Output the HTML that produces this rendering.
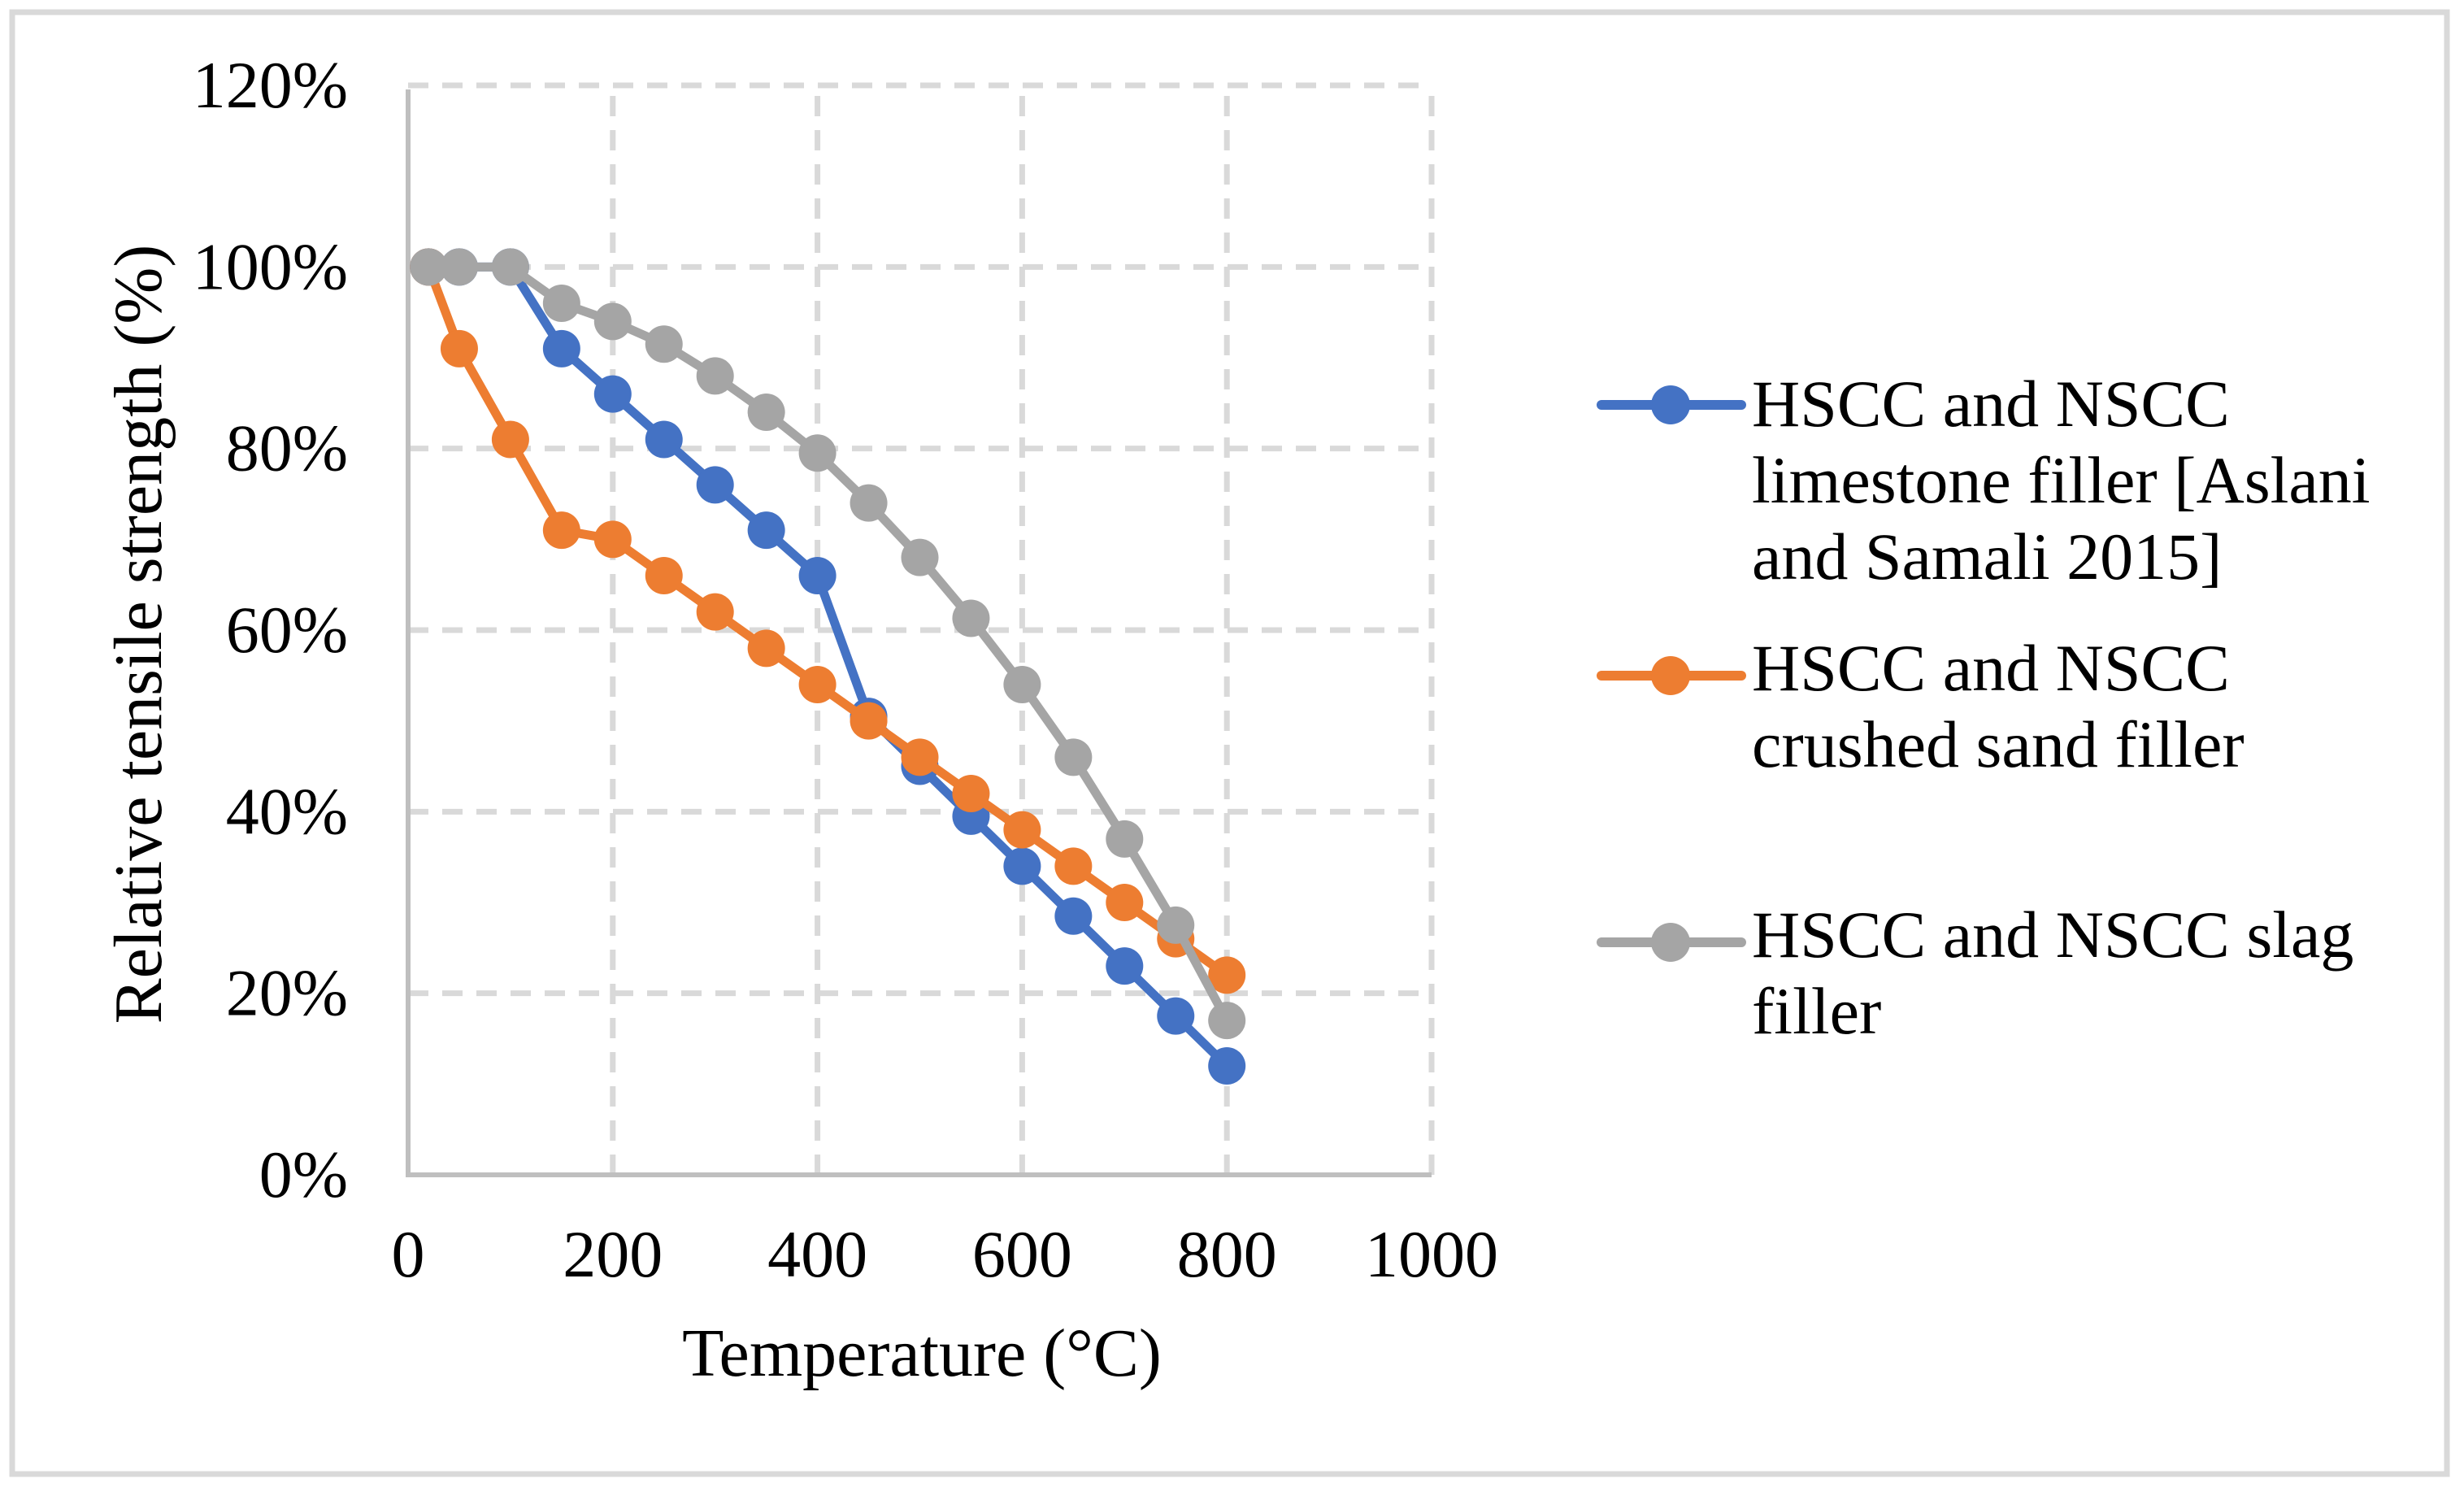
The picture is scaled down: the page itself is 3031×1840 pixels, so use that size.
<!DOCTYPE html>
<html><head><meta charset="utf-8"><style>
html,body{margin:0;padding:0;background:#fff;}
svg{display:block;font-family:"Liberation Serif",serif;}
</style></head><body>
<svg id="chart" width="3031" height="1840" viewBox="0 0 3031 1840" xmlns="http://www.w3.org/2000/svg">
<rect x="15" y="15" width="2995" height="1798" fill="#fff" stroke="#d9d9d9" stroke-width="7"/>
<g id="grid"></g>
<g id="axes"></g>
<g id="series"></g>
<g id="legend"></g>
<text x="1134" y="1692" font-size="84" text-anchor="middle">Temperature (°C)</text>
<text transform="translate(198,780) rotate(-90)" font-size="84" text-anchor="middle">Relative tensile strength (%)</text>
</svg>
<script>
const temps = [20,50,100,150,200,250,300,350,400,450,500,550,600,650,700,750,800];
const limestone = [100,100,100,91,86,81,76,71,66,50.5,45,39.5,34,28.5,23,17.5,12];
const crushedSand = [100,91,81,71,70,66,62,58,54,50,46,42,38,34,30,26,22];
const slag = [100,100,100,96,94,91.5,88,84,79.5,74,68,61.3,54,46,37,27.5,17];
const xTicks = [0,200,400,600,800,1000];
const yTicks = [0,20,40,60,80,100,120];

const NS="http://www.w3.org/2000/svg";
const X0=502,X1=1761,Y0=1445,Y1=105;
function xs(v){return X0+(v-0)/(1000-0)*(X1-X0);}
function ys(v){return Y0-(v-0)/(120-0)*(Y0-Y1);}
function mk(tag,attrs,parent){const e=document.createElementNS(NS,tag);for(const k in attrs)e.setAttribute(k,attrs[k]);parent.appendChild(e);return e;}

const grid=document.getElementById('grid'),axes=document.getElementById('axes'),ser=document.getElementById('series'),leg=document.getElementById('legend');
yTicks.forEach(t=>{
  if(t>0){const l=mk('line',{x1:X0,x2:X1,y1:ys(t),y2:ys(t),stroke:'#d9d9d9','stroke-width':7,'stroke-dasharray':'25 17'},grid);
  
  }
  const tx=mk('text',{x:428,y:ys(t)+27,'font-size':82,'text-anchor':'end'},axes);tx.textContent=t+'%';
  
  
});
xTicks.forEach(t=>{
  if(t>0){const l=mk('line',{x1:xs(t),x2:xs(t),y1:Y0,y2:Y1,stroke:'#d9d9d9','stroke-width':7,'stroke-dasharray':'25 17'},grid);
  
  }
  const tx=mk('text',{x:xs(t),y:1570,'font-size':82,'text-anchor':'middle'},axes);tx.textContent=t;
  
  
});
const ya=mk('line',{x1:X0,x2:X0,y1:Y1+5,y2:Y0+3,stroke:'#bfbfbf','stroke-width':6},axes);


const xa=mk('line',{x1:X0-3,x2:X1,y1:Y0,y2:Y0,stroke:'#bfbfbf','stroke-width':6},axes);



const allSeries=[limestone,crushedSand,slag];
const colors=['#4472C4','#ED7D31','#A5A5A5'];
const keys=['limestone','crushed-sand','slag'];
[0,1,2].forEach(i=>{
  const g=mk('g',{},ser);
  
  
  const pts=temps.map((t,j)=>xs(t)+','+ys(allSeries[i][j])).join(' ');
  const pl=mk('polyline',{points:pts,fill:'none',stroke:colors[i],'stroke-width':11,'stroke-linejoin':'round','stroke-linecap':'round'},g);
  
  
  temps.forEach((t,j)=>{
    const c=mk('circle',{cx:xs(t),cy:ys(allSeries[i][j]),r:23,fill:colors[i]},g);
    
    
  });
});

const legY=[498,831,1159];
const legLines=[["HSCC and NSCC","limestone filler [Aslani","and Samali 2015]"],["HSCC and NSCC","crushed sand filler"],["HSCC and NSCC slag","filler"]];
[0,1,2].forEach(i=>{
  const g=mk('g',{},leg);
  
  
  mk('line',{x1:1970,x2:2142,y1:legY[i],y2:legY[i],stroke:colors[i],'stroke-width':12,'stroke-linecap':'round'},g);
  mk('circle',{cx:2055,cy:legY[i],r:24,fill:colors[i]},g);
  const tx=mk('text',{x:2155,y:legY[i]+26,'font-size':82},g);
  
  
  const off = i===0?0:-8;
  legLines[i].forEach((s,k)=>{const ts=mk('tspan',{x:2155,y:legY[i]+26+off+k*94},tx);ts.textContent=s;});
});
</script>
</body></html>
